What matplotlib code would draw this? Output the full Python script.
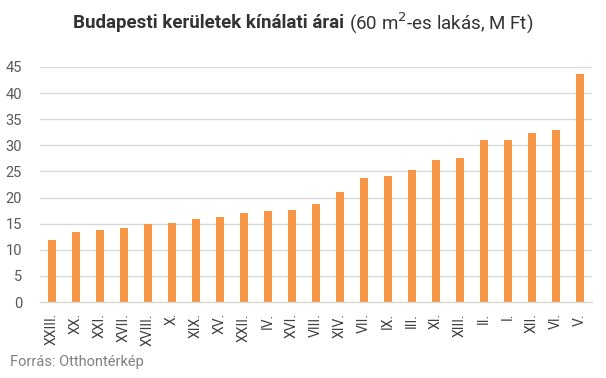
import matplotlib
matplotlib.use("Agg")
import matplotlib.pyplot as plt

districts = ["XXIII.", "XX.", "XXI.", "XVII.", "XVIII.", "X.", "XIX.", "XV.", "XXII.",
             "IV.", "XVI.", "VIII.", "XIV.", "VII.", "IX.", "III.", "XI.", "XIII.",
             "II.", "I.", "XII.", "VI.", "V."]
prices = [11.8, 13.5, 13.7, 14.2, 15.0, 15.2, 15.8, 16.2, 17.1,
          17.5, 17.7, 18.8, 21.1, 23.8, 24.2, 25.3, 27.2, 27.6,
          31.1, 31.1, 32.4, 33.0, 43.7]
yticks = [0, 5, 10, 15, 20, 25, 30, 35, 40, 45]

W, H = 606, 378
fig = plt.figure(figsize=(W / 100, H / 100), dpi=100)
plt.rcParams['font.family'] = ['Roboto', 'DejaVu Sans']

left, right, bottom, top = 40, 592, 302, 67
ax = fig.add_axes([left / W, 1 - bottom / H, (right - left) / W, (bottom - top) / H])

x = list(range(len(districts)))
ax.bar(x, prices, width=0.34, color="#F79646", zorder=3)
ax.set_xlim(-0.5, len(districts) - 0.5)
ax.set_ylim(0, 45)
ax.set_yticks(yticks)
ax.set_yticklabels([str(t) for t in yticks], fontsize=10.5, color="#595959")
ax.set_xticks(x)
ax.set_xticklabels(districts, rotation=90, fontsize=10, color="#404040", va="top")
ax.tick_params(axis="both", length=0)
ax.tick_params(axis="y", pad=13)
ax.tick_params(axis="x", pad=8)
ax.grid(axis="y", color="#D9D9D9", linewidth=1, zorder=0)
for s in ["top", "right", "left"]:
    ax.spines[s].set_visible(False)
ax.spines["bottom"].set_color("#D9D9D9")
ax.spines["bottom"].set_linewidth(1)
ax.spines["bottom"].set_zorder(4)

# Title: bold part + regular part with superscript
fig.canvas.draw()
renderer = fig.canvas.get_renderer()
t1 = fig.text(0, 1 - 23 / H, "Budapesti kerületek kínálati árai ", fontsize=13.5,
              fontweight="bold", color="#333333", va="center", ha="left")
t2 = fig.text(0, 1 - 23 / H, r"(60 m$^{2}$-es lakás, M Ft)", fontsize=13.5,
              color="#333333", va="center", ha="left")
w1 = t1.get_window_extent(renderer).width
w2 = t2.get_window_extent(renderer).width
start = (W - (w1 + w2)) / 2
t1.set_x(start / W)
t2.set_x((start + w1) / W)

fig.text(10 / W, 1 - 362 / H, "Forrás: Otthontérkép", fontsize=10.5, color="#808080",
         va="center", ha="left")

fig.savefig("out.png", dpi=100)
